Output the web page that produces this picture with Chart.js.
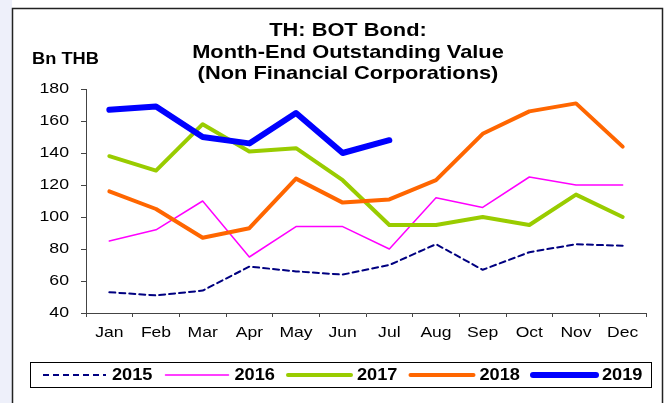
<!DOCTYPE html>
<html>
<head>
<meta charset="utf-8">
<script src="https://cdn.jsdelivr.net/npm/chart.js@4/dist/chart.umd.min.js"></script>
<style>
  html, body { margin: 0; padding: 0; background: #fff; }
  #wrap { width: 670px; height: 403px; position: relative; }
</style>
</head>
<body>
<div id="wrap"><canvas id="bond-chart" width="670" height="403"></canvas></div>
<script>
const months = ['Jan', 'Feb', 'Mar', 'Apr', 'May', 'Jun', 'Jul', 'Aug', 'Sep', 'Oct', 'Nov', 'Dec'];
const years = ['2015', '2016', '2017', '2018', '2019'];

const values2015 = [53, 51, 54, 69, 66, 64, 70, 83, 67, 78, 83, 82];
const values2016 = [85, 92, 110, 75, 94, 94, 80, 112, 106, 125, 120, 120];
const values2017 = [138, 129, 158, 141, 143, 123, 95, 95, 100, 95, 114, 100];
const values2018 = [116, 105, 87, 93, 124, 109, 111, 123, 152, 166, 171, 144];
const values2019 = [167, 169, 150, 146, 165, 140, 148, null, null, null, null, null];

const yMin = 40;
const yMax = 180;
const yStep = 20;

const titleLines = ['TH: BOT Bond:', 'Month-End Outstanding Value', '(Non Financial Corporations)'];
const unitLabel = 'Bn THB';

const FONT = '"Liberation Sans", Arial, sans-serif';

function lineSet(label, data, color, width, dash, order) {
    return {
        label: label,
        data: data,
        borderColor: color,
        backgroundColor: color,
        borderWidth: width,
        borderDash: dash,
        pointRadius: 0,
        tension: 0,
        fill: false,
        spanGaps: false,
        borderCapStyle: 'round',
        borderJoinStyle: 'round',
        order: order
    };
}

// the source picture is a little wider than tall, so text gets stretched sideways
function wideText(ctx, text, x, y, sx, align) {
    ctx.save();
    ctx.translate(x, y);
    ctx.scale(sx, 1);
    ctx.textAlign = align;
    ctx.textBaseline = 'middle';
    ctx.fillText(text, 0, 0);
    ctx.restore();
}

// frame, title, unit label, tick labels and legend
const decorations = {
    id: 'decorations',
    beforeDraw(chart) {
        const ctx = chart.ctx;
        ctx.save();
        ctx.fillStyle = '#ffffff';
        ctx.fillRect(0, 0, chart.width, chart.height);
        ctx.fillStyle = '#eef0fa';
        ctx.fillRect(0, 0, 12, chart.height);
        ctx.restore();
    },
    afterDraw(chart) {
        const ctx = chart.ctx;
        ctx.save();

        // outer frame (open at the bottom)
        ctx.strokeStyle = '#222';
        ctx.lineWidth = 1.5;
        ctx.beginPath();
        ctx.moveTo(12.5, chart.height + 2);
        ctx.lineTo(12.5, 8.5);
        ctx.lineTo(662.5, 8.5);
        ctx.lineTo(662.5, chart.height + 2);
        ctx.stroke();

        ctx.fillStyle = '#000';

        // title
        ctx.font = 'bold 18.5px ' + FONT;
        titleLines.forEach((t, i) => wideText(ctx, t, 348, 31 + i * 21.5, 1.18, 'center'));

        ctx.font = 'bold 16px ' + FONT;
        wideText(ctx, unitLabel, 32, 60, 1.14, 'left');

        // tick labels, placed with the chart's own scales
        const xs = chart.scales.x;
        const ys = chart.scales.y;
        ctx.font = '15px ' + FONT;
        ys.ticks.forEach(t => {
            wideText(ctx, String(t.value), ys.right - 17, ys.getPixelForValue(t.value), 1.18, 'right');
        });
        xs.ticks.forEach((t, i) => {
            wideText(ctx, months[t.value], xs.getPixelForTick(i), xs.top + 20, 1.17, 'center');
        });

        // legend box
        ctx.strokeStyle = '#000';
        ctx.lineWidth = 1;
        ctx.strokeRect(30.5, 362.5, 621, 25);

        ctx.font = 'bold 17px ' + FONT;
        chart.data.datasets.forEach((ds, i) => {
            const x0 = 43 + i * 122.5;
            const y = 375;
            ctx.save();
            ctx.strokeStyle = ds.borderColor;
            ctx.lineWidth = ds.borderWidth;
            ctx.setLineDash(ds.borderDash || []);
            ctx.lineCap = ds.borderDash && ds.borderDash.length ? 'butt' : 'round';
            ctx.beginPath();
            ctx.moveTo(x0, y);
            ctx.lineTo(x0 + 63, y);
            ctx.stroke();
            ctx.restore();
            ctx.fillStyle = '#000';
            wideText(ctx, ds.label, x0 + 69, y, 1.07, 'left');
        });

        ctx.restore();
    }
};

const canvas = document.getElementById('bond-chart');

new Chart(canvas, {
    type: 'line',
    data: {
        labels: months,
        datasets: [
            lineSet(years[0], values2015, '#000080', 2, [6, 4], 5),
            lineSet(years[1], values2016, '#ff00ff', 1.5, [], 4),
            lineSet(years[2], values2017, '#99cc00', 4, [], 3),
            lineSet(years[3], values2018, '#ff6600', 4, [], 2),
            lineSet(years[4], values2019, '#0000ff', 6, [], 1)
        ]
    },
    options: {
        responsive: false,
        animation: false,
        devicePixelRatio: 1,
        layout: {
            padding: {top: 89, right: 24, bottom: 60, left: 20}
        },
        plugins: {
            legend: {display: false},
            title: {display: false},
            tooltip: {enabled: false}
        },
        scales: {
            x: {
                offset: true,
                grid: {
                    display: true,
                    drawOnChartArea: false,
                    drawTicks: true,
                    tickLength: 4,
                    color: '#444',
                    offset: true
                },
                border: {display: true, color: '#444', width: 1},
                ticks: {display: false, autoSkip: false},
                afterFit(scale) { scale.height = 30; }
            },
            y: {
                min: yMin,
                max: yMax,
                grid: {
                    display: true,
                    drawOnChartArea: false,
                    drawTicks: true,
                    tickLength: 5,
                    color: '#444'
                },
                border: {display: true, color: '#444', width: 1},
                ticks: {display: false, stepSize: yStep},
                afterFit(scale) { scale.width = 66; }
            }
        }
    },
    plugins: [decorations]
});
</script>
</body>
</html>
